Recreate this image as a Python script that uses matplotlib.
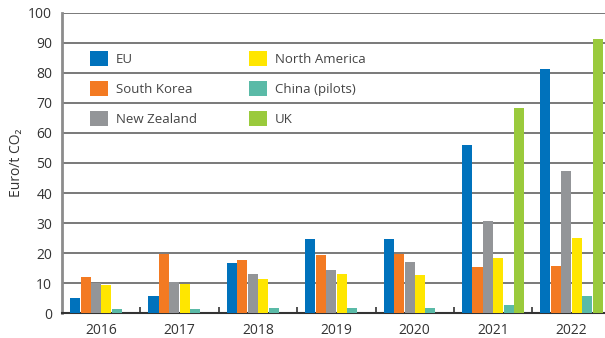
import numpy as np
import matplotlib
matplotlib.use("Agg")
import matplotlib.pyplot as plt
from matplotlib.patches import Patch

plt.rcParams["font.family"] = ["Open Sans", "DejaVu Sans"]

# 炭素価格 (Euro/t CO2)
years = ["2016", "2017", "2018", "2019", "2020", "2021", "2022"]
series = ["EU", "South Korea", "New Zealand", "North America", "China (pilots)", "UK"]

eu = [5.2, 5.8, 16.7, 24.7, 24.7, 56.0, 81.3]
south_korea = [12.1, 19.8, 17.7, 19.4, 19.8, 15.4, 15.7]
new_zealand = [10.0, 10.4, 13.1, 14.4, 17.1, 30.7, 47.3]
north_america = [9.4, 9.8, 11.4, 13.1, 12.7, 18.4, 25.1]
china = [1.5, 1.5, 1.8, 1.8, 1.8, 2.8, 5.8]
uk = [np.nan, np.nan, np.nan, np.nan, np.nan, 68.3, 91.3]

values = [eu, south_korea, new_zealand, north_america, china, uk]
colors = ["#0072BC", "#F37A22", "#939598", "#FFE600", "#5ABAA7", "#9ACA3C"]

fig = plt.figure(figsize=(6.05, 3.38), dpi=100)
# 右端の年は図の端で切れる配置
ax = fig.add_axes([62 / 605, 24.7 / 338, 548.7 / 605, 300.6 / 338])

x = np.arange(len(years))
step = 0.133
width = 0.128
for i, (vals, c) in enumerate(zip(values, colors)):
    ax.bar(x + (i - 2.5) * step, vals, width=width, color=c, zorder=3)

ax.set_xlim(-0.5, len(years) - 0.5)
ax.set_ylim(0, 100)
ax.set_yticks(np.arange(0, 101, 10))
ax.yaxis.grid(True, color="#555555", linewidth=1.1, zorder=0)
ax.set_axisbelow(True)

ax.set_xticks(x)
ax.set_xticklabels(years)
ax.set_xticks(np.arange(0.5, len(years) - 0.5, 1), minor=True)
ax.tick_params(axis="x", which="major", length=0, pad=7, labelsize=10, labelcolor="#333333")
ax.tick_params(axis="x", which="minor", direction="in", length=4.5, width=1.2, color="#333333")
ax.tick_params(axis="y", length=0, pad=7, labelsize=10, labelcolor="#333333")

for side in ["top", "right"]:
    ax.spines[side].set_visible(False)
ax.spines["left"].set_color("#8c8c8c")
ax.spines["left"].set_linewidth(2)
ax.spines["bottom"].set_color("#333333")
ax.spines["bottom"].set_linewidth(1.5)

ax.set_ylabel("Euro/t CO₂", fontsize=10, color="#333333")
ax.yaxis.set_label_coords(-0.069, 0.5)

# 凡例は2列を個別に配置
handles = [Patch(facecolor=c, edgecolor="none") for c in colors]
leg_kw = dict(frameon=False, fontsize=9.5, handlelength=1.35, handleheight=1.35,
              handletextpad=0.6, labelspacing=1.15, borderpad=0, borderaxespad=0,
              loc="upper left", labelcolor="#444444")
leg1 = ax.legend(handles[:3], series[:3], bbox_to_anchor=(0.051, 0.872), **leg_kw)
ax.add_artist(leg1)
ax.legend(handles[3:], series[3:], bbox_to_anchor=(0.341, 0.872), **leg_kw)

fig.savefig("out.png", dpi=100)
